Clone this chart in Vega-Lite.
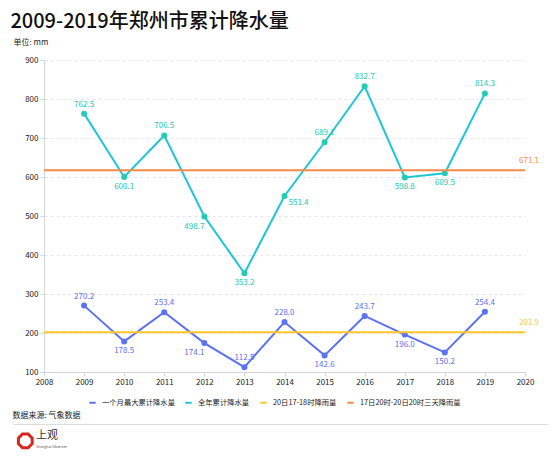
{
  "$schema": "https://vega.github.io/schema/vega-lite/v6.json",
  "padding": {"left": 10, "top": 12, "right": 5, "bottom": 2},
  "background": "white",
  "title": {"text": "2009-2019年郑州市累计降水量", "anchor": "start", "fontSize": 20, "fontWeight": 500, "font": "Noto Sans CJK SC", "color": "#111111", "offset": 6, "dx": -2},
  "datasets": {
    "series": [
      {"series": "一个月最大累计降水量", "year": 2009, "value": 270.2},
      {"series": "一个月最大累计降水量", "year": 2010, "value": 178.5},
      {"series": "一个月最大累计降水量", "year": 2011, "value": 253.4},
      {"series": "一个月最大累计降水量", "year": 2012, "value": 174.1},
      {"series": "一个月最大累计降水量", "year": 2013, "value": 112.5},
      {"series": "一个月最大累计降水量", "year": 2014, "value": 228.0},
      {"series": "一个月最大累计降水量", "year": 2015, "value": 142.6},
      {"series": "一个月最大累计降水量", "year": 2016, "value": 243.7},
      {"series": "一个月最大累计降水量", "year": 2017, "value": 196.0},
      {"series": "一个月最大累计降水量", "year": 2018, "value": 150.2},
      {"series": "一个月最大累计降水量", "year": 2019, "value": 254.4},
      {"series": "全年累计降水量", "year": 2009, "value": 762.5},
      {"series": "全年累计降水量", "year": 2010, "value": 600.1},
      {"series": "全年累计降水量", "year": 2011, "value": 706.5},
      {"series": "全年累计降水量", "year": 2012, "value": 498.7},
      {"series": "全年累计降水量", "year": 2013, "value": 353.2},
      {"series": "全年累计降水量", "year": 2014, "value": 551.4},
      {"series": "全年累计降水量", "year": 2015, "value": 689.1},
      {"series": "全年累计降水量", "year": 2016, "value": 832.7},
      {"series": "全年累计降水量", "year": 2017, "value": 598.8},
      {"series": "全年累计降水量", "year": 2018, "value": 609.5},
      {"series": "全年累计降水量", "year": 2019, "value": 814.3}
    ],
    "refs": [
      {"series": "20日17-18时降雨量", "value": 201.9, "label": "201.9"},
      {"series": "17日20时-20日20时三天降雨量", "value": 617.1, "label": "671.1"}
    ],
    "logo": [
      {"item": "mark", "x": 2.3, "y": 0.35, "text": ""},
      {"item": "name", "x": 4.3, "y": 0.55, "text": "上观"},
      {"item": "sub", "x": 4.3, "y": 0.13, "text": "Shanghai Observer"}
    ]
  },
  "config": {
    "font": "Noto Sans CJK SC",
    "view": {"stroke": null},
    "axis": {"labelFont": "Noto Sans CJK SC", "titleFont": "Noto Sans CJK SC"}
  },
  "spacing": 26,
  "vconcat": [
    {
      "width": 481,
      "height": 312,
      "encoding": {
        "y": {"field": "value", "type": "quantitative", "scale": {"domain": [100, 900], "nice": false, "zero": false},
          "axis": {"values": [100, 200, 300, 400, 500, 600, 700, 800, 900], "title": "单位: mm", "titleAngle": 0, "titleX": -31, "titleY": -18, "titleAlign": "left", "titleBaseline": "middle", "titleFontSize": 8, "titleFontWeight": "normal", "titleColor": "#222222", "labelFontSize": 8, "labelColor": "#222222", "labelOverlap": false, "labelFlush": false, "domainColor": "#d5d5d5", "tickColor": "#d5d5d5", "tickSize": 4, "labelPadding": 2, "gridColor": "#e6e6e6", "gridDash": [3, 3]}}
      },
      "layer": [
        {
          "data": {"name": "series"},
          "mark": {"type": "line", "strokeWidth": 2},
          "encoding": {
            "x": {"field": "year", "type": "quantitative", "scale": {"domain": [2008, 2020], "nice": false, "zero": false},
              "axis": {"values": [2008, 2009, 2010, 2011, 2012, 2013, 2014, 2015, 2016, 2017, 2018, 2019, 2020], "format": "d", "title": null, "grid": false, "labelFontSize": 8, "labelColor": "#222222", "domainColor": "#d5d5d5", "tickColor": "#d5d5d5", "tickSize": 4, "labelPadding": 2, "labelFlush": false, "labelOverlap": false}},
            "color": {"field": "series", "type": "nominal",
              "scale": {"domain": ["一个月最大累计降水量", "全年累计降水量", "20日17-18时降雨量", "17日20时-20日20时三天降雨量"], "range": ["#5b72f2", "#1fc6d4", "#fdc72c", "#f58a4b"]},
              "legend": {"orient": "none", "legendX": 44, "legendY": 338, "direction": "horizontal", "title": null, "symbolType": "stroke", "symbolStrokeWidth": 2, "symbolSize": 40, "labelFontSize": 7.3, "labelColor": "#222222", "columnPadding": 6, "labelOffset": 5}}
          }
        },
        {
          "data": {"name": "series"},
          "mark": {"type": "point", "filled": true, "size": 36, "opacity": 1},
          "encoding": {
            "x": {"field": "year", "type": "quantitative"},
            "fill": {"field": "series", "type": "nominal", "scale": {"domain": ["一个月最大累计降水量", "全年累计降水量"], "range": ["#5b72f2", "#22cbb2"]}, "legend": null}
          }
        },
        {
          "data": {"name": "refs"},
          "mark": {"type": "rule", "strokeWidth": 2},
          "encoding": {
            "x": {"datum": 2008, "type": "quantitative"},
            "x2": {"datum": 2020},
            "color": {"field": "series", "type": "nominal"}
          }
        },
        {
          "data": {"name": "refs"},
          "mark": {"type": "text", "align": "right", "dx": 14, "dy": -9, "fontSize": 8},
          "encoding": {
            "x": {"datum": 2020, "type": "quantitative"},
            "text": {"field": "label"},
            "color": {"field": "series", "type": "nominal"}
          }
        },
        {
          "data": {"name": "series"},
          "transform": [{"filter": {"and": [{"field": "series", "equal": "全年累计降水量"}, {"field": "year", "oneOf": [2009, 2011, 2015, 2016, 2019]}]}}],
          "mark": {"type": "text", "dy": -9, "fontSize": 8, "color": "#22c9b0"},
          "encoding": {"x": {"field": "year", "type": "quantitative"}, "text": {"field": "value", "type": "quantitative", "format": ".1f"}}
        },
        {
          "data": {"name": "series"},
          "transform": [{"filter": {"and": [{"field": "series", "equal": "全年累计降水量"}, {"field": "year", "oneOf": [2010, 2013, 2017, 2018]}]}}],
          "mark": {"type": "text", "dy": 10, "fontSize": 8, "color": "#22c9b0"},
          "encoding": {"x": {"field": "year", "type": "quantitative"}, "text": {"field": "value", "type": "quantitative", "format": ".1f"}}
        },
        {
          "data": {"name": "series"},
          "transform": [{"filter": {"and": [{"field": "series", "equal": "全年累计降水量"}, {"field": "year", "equal": 2012}]}}],
          "mark": {"type": "text", "dx": -10, "dy": 10, "fontSize": 8, "color": "#22c9b0"},
          "encoding": {"x": {"field": "year", "type": "quantitative"}, "text": {"field": "value", "type": "quantitative", "format": ".1f"}}
        },
        {
          "data": {"name": "series"},
          "transform": [{"filter": {"and": [{"field": "series", "equal": "全年累计降水量"}, {"field": "year", "equal": 2014}]}}],
          "mark": {"type": "text", "align": "left", "dx": 4, "dy": 7, "fontSize": 8, "color": "#22c9b0"},
          "encoding": {"x": {"field": "year", "type": "quantitative"}, "text": {"field": "value", "type": "quantitative", "format": ".1f"}}
        },
        {
          "data": {"name": "series"},
          "transform": [{"filter": {"and": [{"field": "series", "equal": "一个月最大累计降水量"}, {"field": "year", "oneOf": [2009, 2011, 2013, 2014, 2016, 2019]}]}}],
          "mark": {"type": "text", "dy": -9, "fontSize": 8, "color": "#5b72f2"},
          "encoding": {"x": {"field": "year", "type": "quantitative"}, "text": {"field": "value", "type": "quantitative", "format": ".1f"}}
        },
        {
          "data": {"name": "series"},
          "transform": [{"filter": {"and": [{"field": "series", "equal": "一个月最大累计降水量"}, {"field": "year", "oneOf": [2010, 2015, 2017, 2018]}]}}],
          "mark": {"type": "text", "dy": 10, "fontSize": 8, "color": "#5b72f2"},
          "encoding": {"x": {"field": "year", "type": "quantitative"}, "text": {"field": "value", "type": "quantitative", "format": ".1f"}}
        },
        {
          "data": {"name": "series"},
          "transform": [{"filter": {"and": [{"field": "series", "equal": "一个月最大累计降水量"}, {"field": "year", "equal": 2012}]}}],
          "mark": {"type": "text", "dx": -10, "dy": 10, "fontSize": 8, "color": "#5b72f2"},
          "encoding": {"x": {"field": "year", "type": "quantitative"}, "text": {"field": "value", "type": "quantitative", "format": ".1f"}}
        }
      ]
    },
    {
      "width": 504,
      "height": 26,
      "title": {"text": "数据来源: 气象数据", "anchor": "start", "fontSize": 8, "fontWeight": "normal", "color": "#222222", "offset": 4},
      "data": {"name": "logo"},
      "encoding": {
        "x": {"field": "x", "type": "quantitative", "scale": {"domain": [0, 100], "range": [-31, 504], "nice": false}, "axis": {"orient": "top", "labels": false, "ticks": false, "grid": false, "title": null, "domainColor": "#dddddd"}},
        "y": {"field": "y", "type": "quantitative", "scale": {"domain": [0, 1]}, "axis": null}
      },
      "layer": [
        {
          "transform": [{"filter": {"field": "item", "equal": "mark"}}],
          "mark": {"type": "point", "shape": "M -0.41 -1 L 0.41 -1 L 1 -0.41 L 1 0.41 L 0.41 1 L -0.41 1 L -1 0.41 L -1 -0.41 Z", "filled": false, "stroke": "#d7261e", "strokeWidth": 3, "size": 190, "opacity": 1}
        },
        {
          "transform": [{"filter": {"field": "item", "equal": "name"}}],
          "mark": {"type": "text", "align": "left", "fontSize": 11, "color": "#333333"},
          "encoding": {"text": {"field": "text"}}
        },
        {
          "transform": [{"filter": {"field": "item", "equal": "sub"}}],
          "mark": {"type": "text", "align": "left", "fontSize": 3.5, "color": "#555555"},
          "encoding": {"text": {"field": "text"}}
        }
      ]
    }
  ]
}
